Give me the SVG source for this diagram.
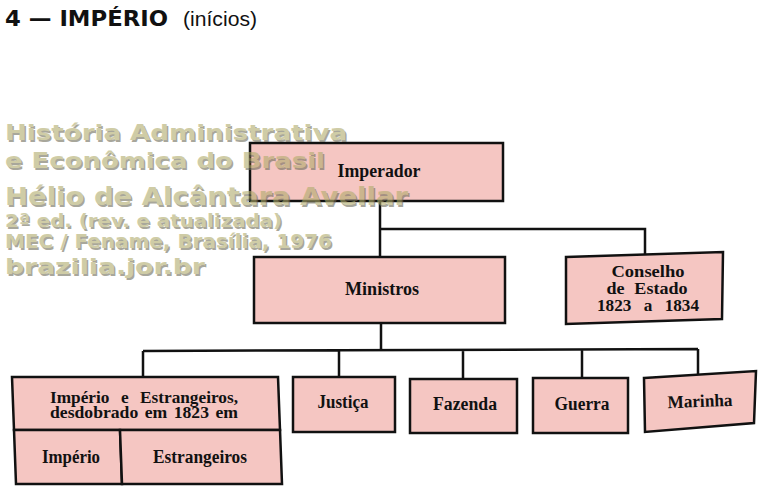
<svg xmlns="http://www.w3.org/2000/svg" width="763" height="490" viewBox="0 0 763 490">
<style>
.box{fill:#f5c6c2;stroke:#111;stroke-width:2.5;stroke-linejoin:miter}
.lbl{font-family:"Liberation Serif","Times New Roman",serif;font-weight:bold;font-size:18px;fill:#111;text-anchor:middle}
.ml{font-size:17px}
.wm{font-family:"DejaVu Sans","Liberation Sans",sans-serif;font-weight:bold;fill:#b0ab6c}
.wms{font-family:"DejaVu Sans","Liberation Sans",sans-serif;font-weight:bold;fill:#6f6d5a}
.conn{fill:none;stroke:#111;stroke-width:2.5}
</style>
<rect width="763" height="490" fill="#ffffff"/>
<g id="title">
<text x="5" y="26" font-family="'DejaVu Sans','Liberation Sans',sans-serif" font-weight="bold" font-size="22" fill="#111" textLength="163" lengthAdjust="spacingAndGlyphs">4 — IMPÉRIO</text>
<text x="183" y="26" font-family="'Liberation Sans','DejaVu Sans',sans-serif" font-size="21" fill="#111" textLength="74" lengthAdjust="spacingAndGlyphs">(inícios)</text>
</g>
<g id="connectors">
<path class="conn" d="M380,201 V257 M380,229 H645 V256"/>
<path class="conn" d="M381,323 V351 M143,351 L698,349 M143,351 V377 M339,351 V377 M463,351 V379 M582,350 V378 M698,349 V375"/>
</g>
<g id="imperador">
<rect class="box" x="250" y="143" width="253" height="58"/>
<text class="lbl" x="379" y="177" textLength="83" lengthAdjust="spacingAndGlyphs">Imperador</text>
</g>
<g id="ministros">
<rect class="box" x="254" y="257" width="251" height="66"/>
<text class="lbl" x="382" y="295" textLength="74" lengthAdjust="spacingAndGlyphs">Ministros</text>
</g>
<g id="conselho">
<polygon class="box" points="566,257 723,252 722,319 566,324"/>
<text class="lbl ml" x="648" y="277" textLength="73" lengthAdjust="spacingAndGlyphs">Conselho</text>
<text class="lbl ml" x="647" y="294" word-spacing="5" textLength="81" lengthAdjust="spacingAndGlyphs">de Estado</text>
<text class="lbl ml" x="648" y="311" word-spacing="8" textLength="102" lengthAdjust="spacingAndGlyphs">1823 a 1834</text>
</g>
<g id="imperio-estrangeiros">
<polygon class="box" points="12,377 278,377 280,430 14,430"/>
<text class="lbl ml" x="144" y="403" word-spacing="7" textLength="188" lengthAdjust="spacingAndGlyphs">Império e Estrangeiros,</text>
<text class="lbl ml" x="144" y="418" word-spacing="2" textLength="188" lengthAdjust="spacingAndGlyphs">desdobrado em 1823 em</text>
</g>
<g id="imperio">
<polygon class="box" points="14,430 120,430 122,484 16,484"/>
<text class="lbl" x="71" y="463" textLength="58" lengthAdjust="spacingAndGlyphs">Império</text>
</g>
<g id="estrangeiros">
<polygon class="box" points="120,430 280,430 282,484 122,484"/>
<text class="lbl" x="200" y="463" textLength="94" lengthAdjust="spacingAndGlyphs">Estrangeiros</text>
</g>
<g id="justica">
<rect class="box" x="293" y="377" width="102" height="55"/>
<text class="lbl" x="343" y="408" textLength="51" lengthAdjust="spacingAndGlyphs">Justiça</text>
</g>
<g id="fazenda">
<rect class="box" x="410" y="379" width="107" height="54"/>
<text class="lbl" x="465" y="410" textLength="64" lengthAdjust="spacingAndGlyphs">Fazenda</text>
</g>
<g id="guerra">
<rect class="box" x="533" y="378" width="95" height="55"/>
<text class="lbl" x="582" y="410" textLength="55" lengthAdjust="spacingAndGlyphs">Guerra</text>
</g>
<g id="marinha">
<polygon class="box" points="644,378 756,371 754,423 645,432"/>
<text class="lbl" x="700" y="407" transform="rotate(-2 700 403)" textLength="65" lengthAdjust="spacingAndGlyphs">Marinha</text>
</g>
<g id="watermark" opacity="0.6">
<g transform="translate(1.5,1.5)">
<text class="wms" x="5" y="140" font-size="21" textLength="342" lengthAdjust="spacingAndGlyphs">História Administrativa</text>
<text class="wms" x="5" y="168" font-size="21" textLength="320" lengthAdjust="spacingAndGlyphs">e Econômica do Brasil</text>
<text class="wms" x="5" y="205" font-size="24" textLength="403" lengthAdjust="spacingAndGlyphs">Hélio de Alcântara Avellar</text>
<text class="wms" x="5" y="227" font-size="18" textLength="277" lengthAdjust="spacingAndGlyphs">2ª ed. (rev. e atualizada)</text>
<text class="wms" x="5" y="248" font-size="19" textLength="327" lengthAdjust="spacingAndGlyphs">MEC / Fename, Brasília, 1976</text>
<text class="wms" x="5" y="274" font-size="22" textLength="200" lengthAdjust="spacingAndGlyphs">brazilia.jor.br</text>
</g>
<text class="wm" x="5" y="140" font-size="21" textLength="342" lengthAdjust="spacingAndGlyphs">História Administrativa</text>
<text class="wm" x="5" y="168" font-size="21" textLength="320" lengthAdjust="spacingAndGlyphs">e Econômica do Brasil</text>
<text class="wm" x="5" y="205" font-size="24" textLength="403" lengthAdjust="spacingAndGlyphs">Hélio de Alcântara Avellar</text>
<text class="wm" x="5" y="227" font-size="18" textLength="277" lengthAdjust="spacingAndGlyphs">2ª ed. (rev. e atualizada)</text>
<text class="wm" x="5" y="248" font-size="19" textLength="327" lengthAdjust="spacingAndGlyphs">MEC / Fename, Brasília, 1976</text>
<text class="wm" x="5" y="274" font-size="22" textLength="200" lengthAdjust="spacingAndGlyphs">brazilia.jor.br</text>
</g>
</svg>
